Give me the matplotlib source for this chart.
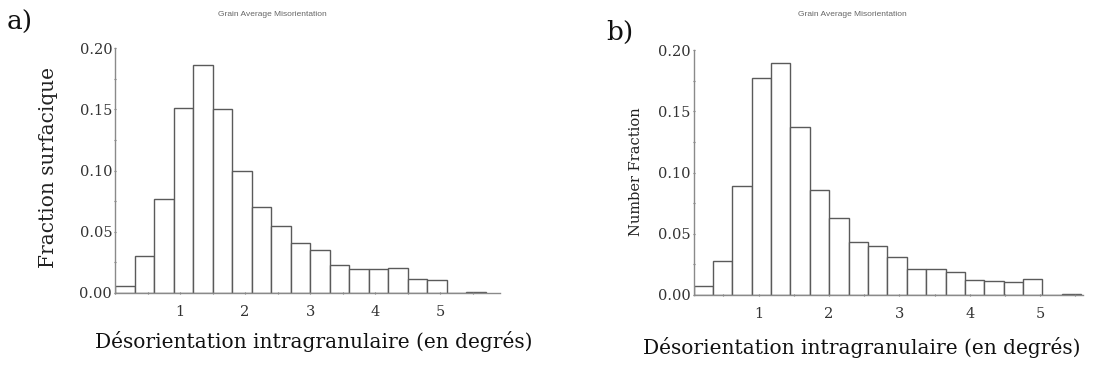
import matplotlib
matplotlib.use("Agg")
import matplotlib.pyplot as plt
import numpy as np
from matplotlib.ticker import MultipleLocator, FixedLocator

# ---- data ----
# panel a: bins of 0.3 starting at 0
a_bin_start = 0.0
a_bin_width = 0.3
a_values = [0.0055, 0.030, 0.077, 0.151, 0.186, 0.150, 0.0995, 0.070, 0.055,
            0.041, 0.035, 0.023, 0.020, 0.020, 0.0205, 0.0115, 0.011, 0.0, 0.001]
# panel b
b_bin_start = 0.075
b_bin_width = 0.2755
b_values = [0.007, 0.028, 0.0887, 0.177, 0.189, 0.137, 0.0857, 0.063, 0.043,
            0.040, 0.031, 0.021, 0.021, 0.019, 0.0124, 0.0113, 0.011, 0.0134,
            0.0, 0.0006]

x_ticks = [1, 2, 3, 4, 5]
y_ticks = [0.00, 0.05, 0.10, 0.15, 0.20]
y_tick_labels = ["0.00", "0.05", "0.10", "0.15", "0.20"]
title_text = "Grain Average Misorientation"
xlabel_text = "Désorientation intragranulaire (en degrés)"
ylabel_a = "Fraction surfacique"
ylabel_b = "Number Fraction"

W, H = 1097, 367
fig = plt.figure(figsize=(W / 100, H / 100), dpi=100)
fig.patch.set_facecolor("white")

serif = "DejaVu Serif"


def setup(ax, start, width, values, xmax, ylabel, ylsize):
    edges = start + width * np.arange(len(values))
    ax.bar(edges, values, width=width, align="edge", facecolor="white",
           edgecolor="#5a5a5a", linewidth=1.0)
    ax.set_xlim(start, xmax)
    ax.set_ylim(0, 0.2)
    for s in ("top", "right"):
        ax.spines[s].set_visible(False)
    for s in ("left", "bottom"):
        ax.spines[s].set_color("#8a8a8a")
        ax.spines[s].set_linewidth(1.0)
    ax.xaxis.set_major_locator(FixedLocator(x_ticks))
    ax.xaxis.set_minor_locator(MultipleLocator(0.5))
    ax.set_yticks(y_ticks)
    ax.set_yticklabels(y_tick_labels)
    ax.yaxis.set_minor_locator(MultipleLocator(0.025))
    ax.tick_params(axis="both", which="both", length=2, width=0.8,
                   color="#777777", direction="inout")
    ax.tick_params(axis="x", labelsize=10.5, pad=8, labelcolor="#333333")
    ax.tick_params(axis="y", labelsize=10.5, pad=1, labelcolor="#333333")
    for lab in ax.get_xticklabels() + ax.get_yticklabels():
        lab.set_fontfamily(serif)
    ax.set_ylabel(ylabel, fontsize=ylsize, family=serif, color="#222222")


# panel a
ax1 = fig.add_axes([115 / W, 1 - 293 / H, 385 / W, 245 / H])
setup(ax1, a_bin_start, a_bin_width, a_values, 5.92, ylabel_a, 14.5)
ax1.yaxis.set_label_coords((58 - 115) / 385, (293 - 168) / 245)

# panel b
ax2 = fig.add_axes([693.5 / W, 1 - 295 / H, 389.5 / W, 245 / H])
setup(ax2, b_bin_start, b_bin_width, b_values, 5.61, ylabel_b, 10.5)
ax2.yaxis.set_label_coords((643 - 693.5) / 389.5, (295 - 172) / 245)

# titles
fig.text(272 / W, 1 - 15 / H, title_text, ha="center", va="center",
         fontsize=6, family="Liberation Sans", color="#666666")
fig.text(852 / W, 1 - 15 / H, title_text, ha="center", va="center",
         fontsize=6, family="Liberation Sans", color="#666666")

# x labels
fig.text(314 / W, 1 - 342 / H, xlabel_text, ha="center", va="center",
         fontsize=14.5, family=serif, color="#111111")
fig.text(862 / W, 1 - 347 / H, xlabel_text, ha="center", va="center",
         fontsize=14.5, family=serif, color="#111111")

# panel letters
fig.text(7 / W, 1 - 22 / H, "a)", ha="left", va="center",
         fontsize=19, family=serif, color="#111111")
fig.text(606 / W, 1 - 32 / H, "b)", ha="left", va="center",
         fontsize=19, family=serif, color="#111111")

fig.savefig("out.png", dpi=100, facecolor="white")
